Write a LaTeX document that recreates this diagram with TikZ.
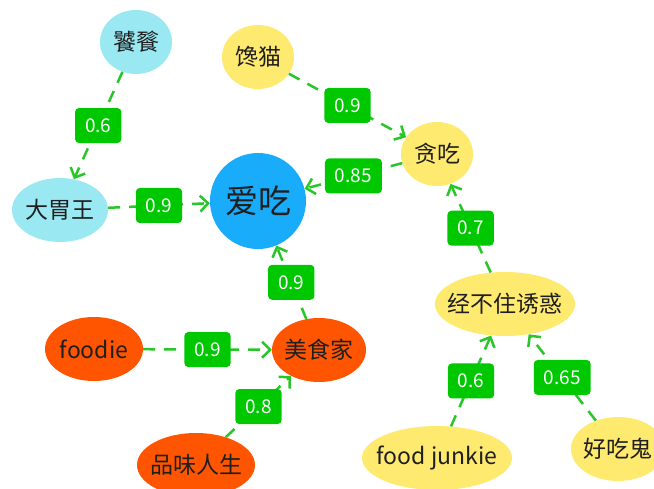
\documentclass[tikz,border=0pt]{standalone}
\usepackage{fontspec}
\setmainfont{Noto Sans CJK SC}
\usetikzlibrary{shapes.geometric,arrows.meta}
\definecolor{cyanfill}{RGB}{154,233,242}
\definecolor{yellowfill}{RGB}{255,234,112}
\definecolor{bluefill}{RGB}{24,172,250}
\definecolor{orangefill}{RGB}{255,85,0}
\definecolor{lblgreen}{RGB}{0,200,0}
\definecolor{edgegreen}{RGB}{40,198,40}
\begin{document}
\begin{tikzpicture}[x=1pt,y=-1pt,
  nd/.style={ellipse, inner xsep=-20pt, inner ysep=-8pt, text=black!88, font=\fontsize{23}{23}\selectfont},
  cyannd/.style={nd, fill=cyanfill},
  yelnd/.style={nd, fill=yellowfill},
  ornd/.style={nd, fill=orangefill},
  bluend/.style={nd, fill=bluefill},
  edge/.style={draw=edgegreen, line width=2.5pt, dash pattern=on 12pt off 9pt,
    -{Straight Barb[length=8pt,width=16pt]}},
  lbl/.style={fill=lblgreen, text=white, rounded corners=4pt, minimum height=35pt,
    inner xsep=10pt, inner ysep=0pt, font=\fontsize{19}{19}\selectfont}
]
\useasboundingbox[fill=white] (0,0) rectangle (654,489);

\node[cyannd, minimum width=72pt, minimum height=64pt] (tt) at (136,42) {饕餮};
\node[yelnd, minimum width=72pt, minimum height=64pt] (cm) at (258,57) {馋猫};
\node[cyannd, minimum width=96pt, minimum height=64pt] (dww) at (60,210) {大胃王};
\node[bluend, minimum width=96pt, minimum height=96pt, font=\fontsize{33}{33}\selectfont] (ac) at (258,201) {爱吃};
\node[yelnd, minimum width=72pt, minimum height=64pt] (tc) at (437,154) {贪吃};
\node[yelnd, minimum width=140pt, minimum height=64pt] (jbz) at (505,304) {经不住诱惑};
\node[ornd, minimum width=98pt, minimum height=64pt] (fd) at (94,349) {foodie};
\node[ornd, minimum width=94pt, minimum height=64pt] (msj) at (319,350) {美食家};
\node[ornd, minimum width=118pt, minimum height=64pt] (pw) at (196,465) {品味人生};
\node[yelnd, minimum width=150pt, minimum height=64pt] (fj) at (437,458) {food junkie};
\node[yelnd, minimum width=94pt, minimum height=64pt] (hcg) at (618,449) {好吃鬼};

\draw[edge] (tt) -- node[lbl]{0.6} (dww);
\draw[edge] (dww) -- node[lbl]{0.9} (ac);
\draw[edge] (cm) -- node[lbl]{0.9} (tc);
\draw[edge] (tc) -- node[lbl]{0.85} (ac);
\draw[edge] (jbz) -- node[lbl]{0.7} (tc);
\draw[edge] (msj) -- node[lbl]{0.9} (ac);
\draw[edge] (fd) -- node[lbl]{0.9} (msj);
\draw[edge] (pw) -- node[lbl]{0.8} (msj);
\draw[edge] (fj) -- node[lbl]{0.6} (jbz);
\draw[edge] (hcg) -- node[lbl]{0.65} (jbz);
\end{tikzpicture}
\end{document}
